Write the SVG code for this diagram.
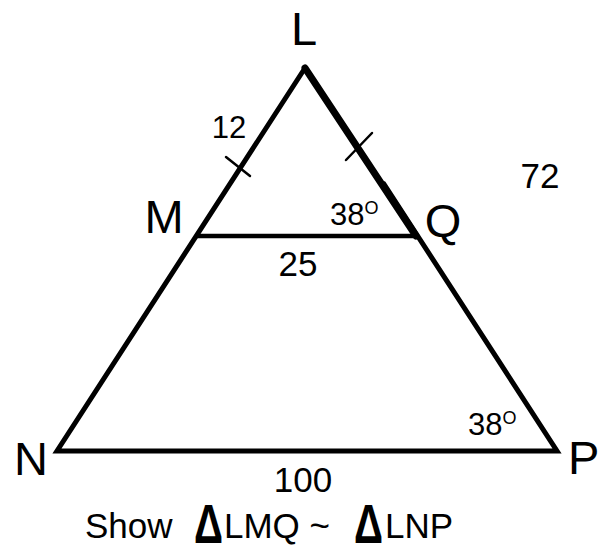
<svg xmlns="http://www.w3.org/2000/svg" width="604" height="549" viewBox="0 0 604 549">
<style>
text{font-family:"Liberation Sans",Arial,sans-serif;fill:#000}
.big{font-size:47px}
.mid{font-size:35px}
.ang{font-size:31px}
.sup{font-size:18px}
.delta{font-size:56px;font-weight:bold}
line,polyline{stroke:#000;fill:none;stroke-linecap:round;stroke-linejoin:miter}
</style>
<rect width="604" height="549" fill="#fff"/>
<g id="connectors">
<polyline points="305,68 57,451 557,451 384,184" stroke-width="5"/>
<line x1="305" y1="68" x2="416" y2="236" stroke-width="7"/>
<line x1="197" y1="236" x2="416" y2="236" stroke-width="4.5"/>
<line x1="226" y1="157" x2="250" y2="176" stroke-width="2.5"/>
<line x1="346" y1="160" x2="372" y2="133" stroke-width="2.5"/>
</g>
<g id="L"><text class="big" x="291" y="45">L</text></g>
<g id="M"><text class="big" x="164" y="233" text-anchor="middle">M</text></g>
<g id="Q"><text class="big" x="443" y="237" text-anchor="middle">Q</text></g>
<g id="N"><text class="big" x="14" y="475">N</text></g>
<g id="P"><text class="big" x="568" y="474">P</text></g>
<g id="labels">
<text class="ang" x="229" y="138" text-anchor="middle">12</text>
<text class="mid" x="540" y="188" text-anchor="middle">72</text>
<text class="mid" x="298" y="276" text-anchor="middle">25</text>
<text class="mid" x="303" y="492" text-anchor="middle">100</text>
<text class="ang" x="330" y="225">38<tspan class="sup" dy="-11">O</tspan></text>
<text class="ang" x="468" y="435">38<tspan class="sup" dy="-11">O</tspan></text>
<text class="mid" x="85" y="538">Show<tspan class="delta" x="194" y="543" textLength="29" lengthAdjust="spacingAndGlyphs">Δ</tspan><tspan x="224" y="538">LMQ ~</tspan><tspan class="delta" x="354" y="543" textLength="29" lengthAdjust="spacingAndGlyphs">Δ</tspan><tspan x="385" y="538">LNP</tspan></text>
</g>
</svg>
